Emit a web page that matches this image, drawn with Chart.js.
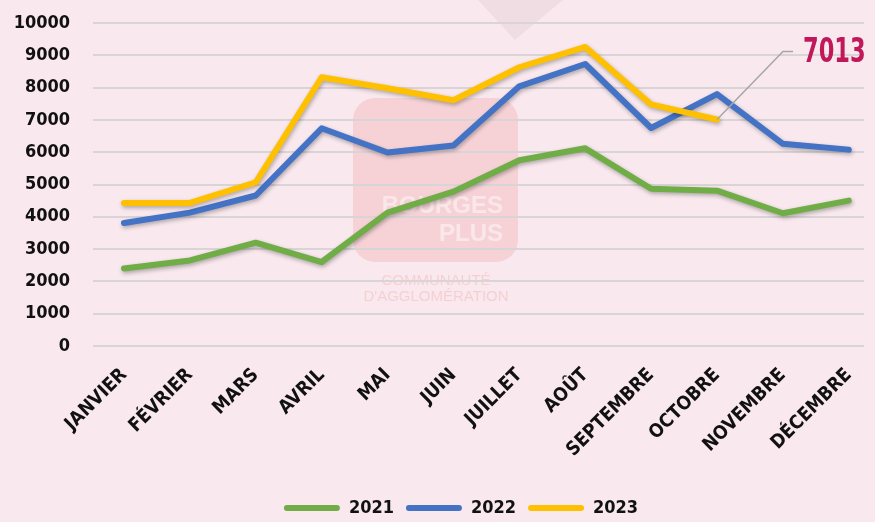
<!DOCTYPE html>
<html>
<head>
<meta charset="utf-8">
<script src="https://cdn.jsdelivr.net/npm/chart.js@4"></script>
<style>
  html, body { margin: 0; padding: 0; background: #f9e9ef; }
  #wrap { width: 875px; height: 522px; }
</style>
</head>
<body>
<div id="wrap"><canvas id="line-chart"></canvas></div>
<script>
// mois
const months = ['JANVIER', 'FÉVRIER', 'MARS', 'AVRIL', 'MAI', 'JUIN', 'JUILLET', 'AOÛT', 'SEPTEMBRE', 'OCTOBRE', 'NOVEMBRE', 'DÉCEMBRE'];

// valeurs par année
const values2021 = [2400, 2650, 3200, 2600, 4130, 4780, 5750, 6120, 4870, 4810, 4110, 4500];
const values2022 = [3810, 4130, 4660, 6740, 5990, 6210, 8040, 8730, 6750, 7800, 6260, 6080];
const values2023 = [4430, 4430, 5070, 8320, 7980, 7610, 8630, 9260, 7480, 7013, null, null];

const yTicks = [0, 1000, 2000, 3000, 4000, 5000, 6000, 7000, 8000, 9000, 10000];

const calloutIndex = 9; // octobre 2023

const font = "'DejaVu Sans Condensed', 'DejaVu Sans', sans-serif";

function toPoints(arr) {
    return arr.map((v, i) => ({ x: i, y: v }));
}

// logo en filigrane + triangle du fond
const backdrop = {
    id: 'backdrop',
    afterUpdate(chart) {
        // légende un peu décalée comme dans l'original
        const lg = chart.legend;
        lg.left += 26;
        lg.right += 26;
        lg.top += 5;
        lg.bottom += 5;
    },
    beforeDraw(chart) {
        const ctx = chart.ctx;
        ctx.save();
        ctx.fillStyle = '#f0dde4';
        ctx.beginPath();
        ctx.moveTo(478, 0);
        ctx.lineTo(563, 0);
        ctx.lineTo(515, 40);
        ctx.closePath();
        ctx.fill();

        ctx.fillStyle = 'rgba(240, 160, 160, 0.3)';
        ctx.beginPath();
        ctx.roundRect(353, 98, 165, 164, 22);
        ctx.fill();

        ctx.fillStyle = 'rgba(255, 255, 255, 0.45)';
        ctx.font = "bold 24px 'Liberation Sans', sans-serif";
        ctx.textAlign = 'right';
        ctx.textBaseline = 'middle';
        ctx.fillText('BOURGES', 503, 206);
        ctx.fillText('PLUS', 503, 234);

        ctx.fillStyle = 'rgba(240, 160, 160, 0.35)';
        ctx.font = "15px 'Liberation Sans', sans-serif";
        ctx.textAlign = 'center';
        ctx.fillText('COMMUNAUTÉ', 436, 281);
        ctx.fillText("D'AGGLOMÉRATION", 436, 297);
        ctx.restore();
    }
};

// ombre des courbes + étiquette 7013
const lineExtras = {
    id: 'lineExtras',
    beforeDatasetsDraw(chart) {
        const ctx = chart.ctx;
        ctx.save();
        ctx.shadowColor = 'rgba(0, 0, 0, 0.3)';
        ctx.shadowBlur = 4;
        ctx.shadowOffsetX = 1;
        ctx.shadowOffsetY = 2;
    },
    afterDatasetsDraw(chart) {
        const ctx = chart.ctx;
        ctx.restore();

        const pt = chart.getDatasetMeta(2).data[calloutIndex];
        const ex = pt.x + 66, ey = pt.y - 68;
        ctx.save();
        ctx.strokeStyle = '#a6a6a6';
        ctx.lineWidth = 1.5;
        ctx.beginPath();
        ctx.moveTo(pt.x, pt.y);
        ctx.lineTo(ex, ey);
        ctx.lineTo(ex + 10, ey);
        ctx.stroke();

        // texte étiré en hauteur (police condensée)
        ctx.fillStyle = '#c0185a';
        ctx.font = 'bold 25px ' + font;
        ctx.textAlign = 'left';
        ctx.textBaseline = 'middle';
        ctx.translate(ex + 20, ey + 2);
        ctx.scale(1, 1.35);
        ctx.fillText(String(values2023[calloutIndex]), 0, 0);
        ctx.restore();
    }
};

new Chart(document.getElementById('line-chart'), {
    type: 'line',
    data: {
        datasets: [
            {
                label: '2021',
                data: toPoints(values2021),
                borderColor: '#70ad47',
                backgroundColor: '#70ad47',
                order: 2
            },
            {
                label: '2022',
                data: toPoints(values2022),
                borderColor: '#4472c4',
                backgroundColor: '#4472c4',
                order: 1
            },
            {
                label: '2023',
                data: toPoints(values2023),
                borderColor: '#ffc000',
                backgroundColor: '#ffc000',
                order: 0
            }
        ]
    },
    options: {
        responsive: true,
        maintainAspectRatio: false,
        animation: false,
        layout: {
            padding: { top: 23, right: 5, left: 0, bottom: 0 }
        },
        elements: {
            point: { radius: 0, hoverRadius: 0 },
            line: {
                borderWidth: 6,
                tension: 0,
                fill: false,
                borderCapStyle: 'round',
                borderJoinStyle: 'round'
            }
        },
        scales: {
            x: {
                type: 'linear',
                min: -0.47,
                max: 11.23,
                afterBuildTicks(scale) {
                    scale.ticks = months.map((m, i) => ({ value: i }));
                },
                afterFit(scale) {
                    scale.height = 136;
                },
                ticks: {
                    autoSkip: false,
                    maxRotation: 45,
                    minRotation: 45,
                    padding: 10,
                    color: '#111',
                    font: { family: font, size: 19, weight: 'bold' },
                    callback: (v) => months[v]
                },
                grid: { display: false },
                border: { display: false }
            },
            y: {
                min: 0,
                max: 10000,
                afterBuildTicks(scale) {
                    scale.ticks = yTicks.map(v => ({ value: v }));
                },
                afterFit(scale) {
                    scale.width = 93;
                    scale.paddingTop = 0;
                    scale.paddingBottom = 0;
                },
                ticks: {
                    autoSkip: false,
                    padding: 23,
                    color: '#111',
                    font: { family: font, size: 18, weight: 'bold' },
                    callback: (v) => String(v)
                },
                grid: {
                    color: '#d9d5d7',
                    lineWidth: 2,
                    drawTicks: false
                },
                border: { display: false }
            }
        },
        plugins: {
            legend: {
                position: 'bottom',
                labels: {
                    boxWidth: 56,
                    boxHeight: 6,
                    useBorderRadius: true,
                    borderRadius: 3,
                    padding: 12,
                    color: '#111',
                    font: { family: font, size: 18, weight: 'bold' },
                    sort: (a, b) => a.datasetIndex - b.datasetIndex,
                    generateLabels: (chart) =>
                        Chart.defaults.plugins.legend.labels.generateLabels(chart)
                            .map(l => ({ ...l, lineWidth: 0 }))
                }
            },
            tooltip: { enabled: false }
        },
        interaction: { mode: 'nearest' }
    },
    plugins: [backdrop, lineExtras]
});
</script>
</body>
</html>
